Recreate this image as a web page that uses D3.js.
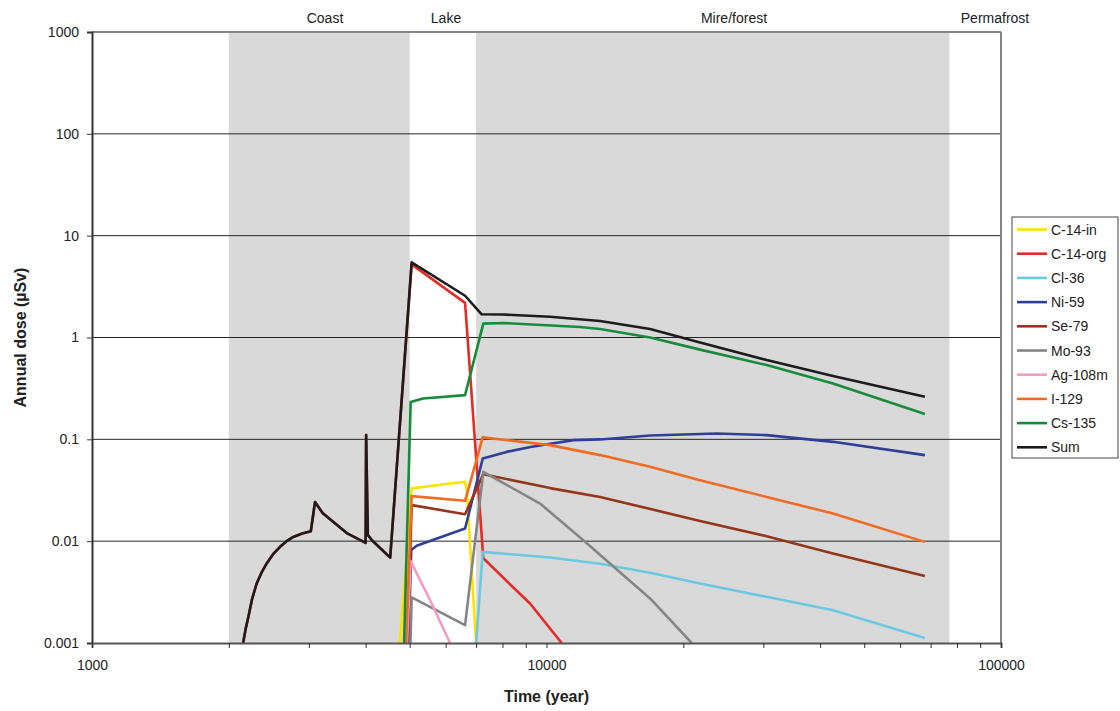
<!DOCTYPE html>
<head>
<meta charset="utf-8">
<title>Annual dose</title>
<script src="https://cdn.jsdelivr.net/npm/d3@7"></script>
<style>
body { margin: 0; background: #fff; }
text { font-family: "Liberation Sans", Arial, sans-serif; fill: #222; }
</style>
</head>
<body>
<script>
// zones along the time axis
var zones = [
  {name: "Coast", from: 2000, to: 5000, shade: true, lx: 325},
  {name: "Lake", from: 5000, to: 7000, shade: false, lx: 446},
  {name: "Mire/forest", from: 7000, to: 77000, shade: true, lx: 734},
  {name: "Permafrost", from: 77000, to: 100000, shade: false, lx: 995}
];
var yTicks = [0.001, 0.01, 0.1, 1, 10, 100, 1000];
var xTicks = [1000, 10000, 100000];

// series: [year, dose uSv]
var c14in = [[4760,0.001],[5050,0.033],[6620,0.0383],[6680,0.031],[7000,0.001]];
var c14org = [[2150,0.001],[2180,0.0014],[2208,0.0018],[2250,0.0027],[2303,0.00384],[2360,0.0049],[2423,0.00604],[2500,0.0074],
  [2593,0.0088],[2680,0.0100],[2773,0.011],[2900,0.0119],[3030,0.0125],[3095,0.0242],[3220,0.0188],[3635,0.0120],[4000,0.0096],
  [4010,0.11],[4045,0.0115],[4130,0.0102],[4530,0.0069],[5050,5.22],[6620,2.19],[7260,0.0068],[8200,0.0040],[9200,0.00244],
  [10800,0.001]];
var cl36 = [[7000,0.001],[7240,0.00785],[10180,0.0069],[13120,0.0060],[16900,0.00489],[21770,0.00384],[30500,0.00284],
  [42700,0.0021],[68000,0.00112]];
var ni59 = [[4970,0.001],[5040,0.0082],[5180,0.009],[6620,0.0133],[7240,0.0649],[8170,0.0753],[9220,0.084],[11460,0.0983],
  [13120,0.0998],[16900,0.109],[23690,0.114],[30500,0.110],[42700,0.0945],[68000,0.070]];
var se79 = [[4950,0.001],[5050,0.0226],[6620,0.0184],[7260,0.0455],[10180,0.0332],[13120,0.0272],[21770,0.0158],
  [30500,0.0112],[42700,0.00757],[68000,0.00456]];
var mo93 = [[5020,0.001],[5050,0.0028],[6620,0.0015],[7260,0.048],[9680,0.0234],[12050,0.0102],[16900,0.00274],[20870,0.001]];
var ag108m = [[4930,0.001],[5025,0.00637],[5545,0.00263],[6135,0.001]];
var i129 = [[4910,0.001],[5050,0.0277],[6620,0.0249],[7240,0.1045],[10180,0.0877],[13120,0.070],[16900,0.0537],
  [21770,0.0397],[30500,0.0272],[42700,0.0187],[68000,0.00984]];
var cs135 = [[4860,0.001],[5025,0.233],[5350,0.252],[6620,0.272],[7260,1.37],[8030,1.39],[11850,1.27],[13120,1.21],
  [16900,1.0],[21770,0.76],[30500,0.536],[42700,0.354],[68000,0.177]];
var sum = [[2150,0.001],[2180,0.0014],[2208,0.0018],[2250,0.0027],[2303,0.00384],[2360,0.0049],[2423,0.00604],[2500,0.0074],
  [2593,0.0088],[2680,0.0100],[2773,0.011],[2900,0.0119],[3030,0.0125],[3095,0.0242],[3220,0.0188],[3635,0.0120],[4000,0.0096],
  [4010,0.11],[4045,0.0115],[4130,0.0102],[4530,0.0069],[5050,5.47],[6620,2.57],[7200,1.69],[8020,1.68],[10180,1.6],
  [13120,1.45],[16900,1.21],[21770,0.895],[30500,0.60],[42700,0.418],[68000,0.262]];

var names = ["C-14-in","C-14-org","Cl-36","Ni-59","Se-79","Mo-93","Ag-108m","I-129","Cs-135","Sum"];
var colors = ["#fce300","#e42b26","#6cc9e2","#2f3f96","#94361b","#858585","#f29cc2","#f26b21","#178a3c","#1c1c1c"];
var seriesData = [c14in, c14org, cl36, ni59, se79, mo93, ag108m, i129, cs135, sum];

var width = 1120, height = 711;
var pL = 92, pR = 1001, pT = 32, pB = 643;

var svg = d3.select("body").append("svg")
  .attr("width", width)
  .attr("height", height);

var x = d3.scaleLog().domain([1000, 100000]).range([pL, pR]);
var y = d3.scaleLog().domain([0.001, 1000]).range([pB, pT]);

svg.append("clipPath").attr("id", "plot")
  .append("rect").attr("x", pL).attr("y", pT).attr("width", pR - pL).attr("height", pB - pT);

// shaded zones
svg.selectAll("rect.zone")
  .data(zones.filter(function(d) {return d.shade;})).enter().append("rect")
  .attr("class", "zone")
  .attr("x", function(d) {return x(d.from);})
  .attr("width", function(d) {return x(d.to) - x(d.from);})
  .attr("y", pT)
  .attr("height", pB - pT)
  .attr("fill", "#d9d9d9");

svg.selectAll("text.zone")
  .data(zones).enter().append("text")
  .attr("class", "zone")
  .attr("x", function(d) {return d.lx;})
  .attr("y", 23)
  .attr("text-anchor", "middle")
  .style("font-size", "14px")
  .text(function(d) {return d.name;});

// gridlines
svg.selectAll("line.grid")
  .data(yTicks.slice(1, -1)).enter().append("line")
  .attr("class", "grid")
  .attr("x1", pL).attr("x2", pR)
  .attr("y1", function(d) {return y(d);})
  .attr("y2", function(d) {return y(d);})
  .attr("stroke", "#262626")
  .attr("stroke-width", 1);

// frame
svg.append("line").attr("x1", pL).attr("x2", pR).attr("y1", pT).attr("y2", pT)
  .attr("stroke", "#858585").attr("stroke-width", 2);
svg.append("line").attr("x1", pR).attr("x2", pR).attr("y1", pT).attr("y2", pB)
  .attr("stroke", "#858585").attr("stroke-width", 2);

// series
var line = d3.line()
  .x(function(d) {return x(d[0]);})
  .y(function(d) {return y(d[1]);});

svg.append("g").attr("clip-path", "url(#plot)")
  .selectAll("path")
  .data(seriesData).enter().append("path")
  .attr("d", line)
  .attr("fill", "none")
  .attr("stroke", function(d, i) {return colors[i];})
  .attr("stroke-width", 2.6)
  .attr("stroke-linejoin", "round");

// axes
var yAxis = d3.axisLeft(y).tickValues(yTicks).tickSize(5).tickPadding(8)
  .tickFormat(function(d) {return String(d);});
var gy = svg.append("g").attr("transform", "translate(" + pL + ",0)").call(yAxis);
gy.select(".domain").attr("stroke", "#333").attr("stroke-width", 2);
gy.selectAll(".tick line").attr("stroke", "#333");
gy.selectAll("text").style("font-size", "14px").style("font-family", "Liberation Sans, Arial, sans-serif").attr("fill", "#222");

var minor = [];
for (var e = 1000; e < 100000; e *= 10) {
  for (var k = 1; k < 10; k++) minor.push(e * k);
}
minor.push(100000);
var xAxis = d3.axisBottom(x).tickValues(minor).tickSize(5).tickPadding(12)
  .tickFormat(function(d) {return xTicks.indexOf(d) >= 0 ? String(d) : "";});
var gx = svg.append("g").attr("transform", "translate(0," + pB + ")").call(xAxis);
gx.select(".domain").attr("stroke", "#555").attr("stroke-width", 2);
gx.selectAll(".tick line").attr("stroke", "#333");
gx.selectAll("text").style("font-size", "14px").style("font-family", "Liberation Sans, Arial, sans-serif").attr("fill", "#222");

// axis titles
svg.append("text")
  .attr("x", (pL + pR) / 2).attr("y", 702)
  .attr("text-anchor", "middle")
  .style("font-size", "16px").style("font-weight", "bold")
  .text("Time (year)");
svg.append("text")
  .attr("transform", "translate(26," + ((pT + pB) / 2) + ") rotate(-90)")
  .attr("text-anchor", "middle")
  .style("font-size", "16px").style("font-weight", "bold")
  .text("Annual dose (µSv)");

// legend
var lg = svg.append("g");
lg.append("rect").attr("x", 1012).attr("y", 217).attr("width", 106).attr("height", 241)
  .attr("fill", "#fff").attr("stroke", "#444").attr("stroke-width", 1);
var item = lg.selectAll("g.item").data(names).enter().append("g")
  .attr("class", "item")
  .attr("transform", function(d, i) {return "translate(0," + (229.5 + i * 24.2) + ")";});
item.append("line").attr("x1", 1017).attr("x2", 1047)
  .attr("stroke", function(d, i) {return colors[i];}).attr("stroke-width", 2.6);
item.append("text").attr("x", 1051).attr("y", 5)
  .style("font-size", "14px")
  .text(function(d) {return d;});
</script>
</body>
